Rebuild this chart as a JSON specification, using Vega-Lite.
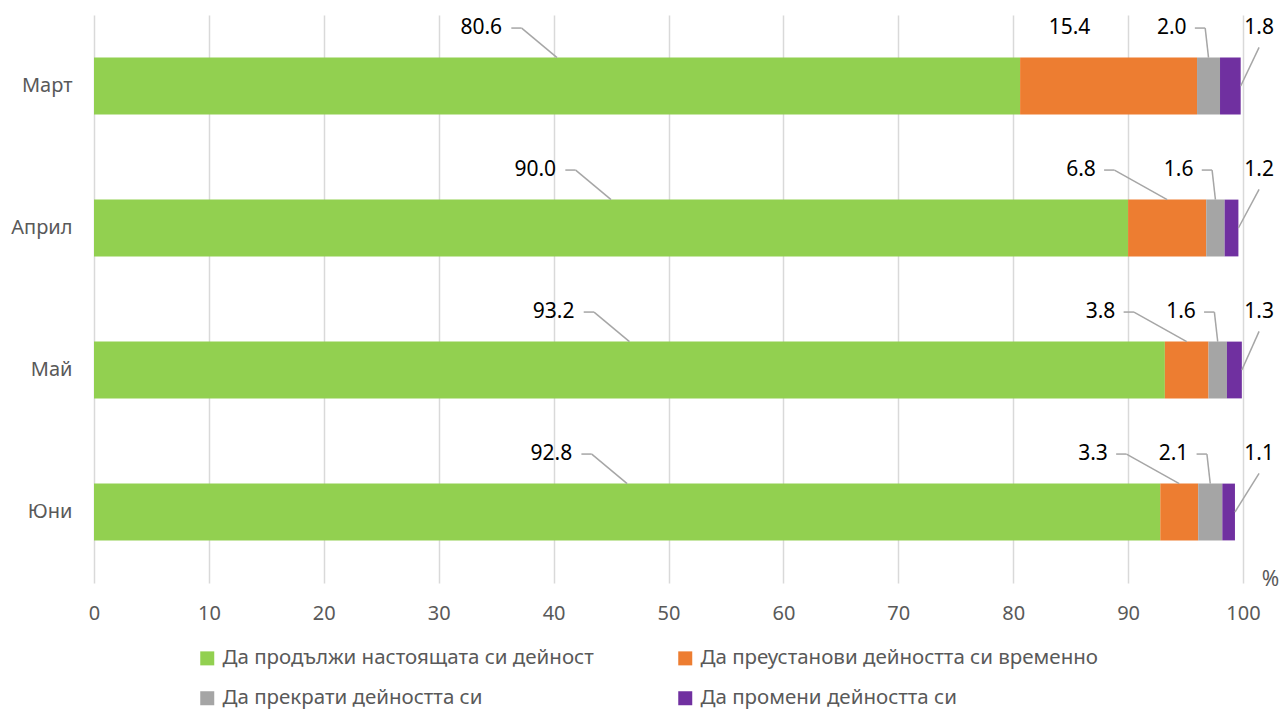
{
  "$schema": "https://vega.github.io/schema/vega-lite/v6.json",
  "width": 1149,
  "height": 568,
  "autosize": {"type": "none"},
  "padding": {"left": 94, "top": 15, "right": 39, "bottom": 128},
  "background": "white",
  "config": {"view": {"stroke": null}, "font": "Noto Sans"},
  "data": {
    "values": [
      {"month": "Март", "series": "Да продължи настоящата си дейност", "value": 80.6},
      {"month": "Март", "series": "Да преустанови дейността си временно", "value": 15.4},
      {"month": "Март", "series": "Да прекрати дейността си", "value": 2.0},
      {"month": "Март", "series": "Да промени дейността си", "value": 1.8},
      {"month": "Април", "series": "Да продължи настоящата си дейност", "value": 90.0},
      {"month": "Април", "series": "Да преустанови дейността си временно", "value": 6.8},
      {"month": "Април", "series": "Да прекрати дейността си", "value": 1.6},
      {"month": "Април", "series": "Да промени дейността си", "value": 1.2},
      {"month": "Май", "series": "Да продължи настоящата си дейност", "value": 93.2},
      {"month": "Май", "series": "Да преустанови дейността си временно", "value": 3.8},
      {"month": "Май", "series": "Да прекрати дейността си", "value": 1.6},
      {"month": "Май", "series": "Да промени дейността си", "value": 1.3},
      {"month": "Юни", "series": "Да продължи настоящата си дейност", "value": 92.8},
      {"month": "Юни", "series": "Да преустанови дейността си временно", "value": 3.3},
      {"month": "Юни", "series": "Да прекрати дейността си", "value": 2.1},
      {"month": "Юни", "series": "Да промени дейността си", "value": 1.1}
    ]
  },
  "transform": [
    {"calculate": "indexof(['Да продължи настоящата си дейност','Да преустанови дейността си временно','Да прекрати дейността си','Да промени дейността си'], datum.series)", "as": "ord"},
    {"stack": "value", "groupby": ["month"], "sort": [{"field": "ord", "order": "ascending"}], "as": ["x0", "x1"]},
    {"calculate": "(datum.x0 + datum.x1) / 2", "as": "mid"},
    {"calculate": "datum.ord == 0 ? datum.mid - 6.6 : datum.ord == 1 ? (datum.value > 10 ? datum.mid - 3.4 : datum.mid - 7.5) : datum.ord == 2 ? datum.mid - 3.2 : 101.4", "as": "lx"},
    {"calculate": "datum.lx + (datum.value >= 10 ? 1.87 : 1.26) + 0.75", "as": "ls"},
    {"calculate": "datum.ls + 0.9", "as": "lp"}
  ],
  "layer": [
    {
      "mark": {"type": "bar"},
      "encoding": {
        "y": {
          "field": "month", "type": "nominal",
          "scale": {"domain": ["Март", "Април", "Май", "Юни"], "paddingInner": 0.6, "paddingOuter": 0.3},
          "axis": {"title": null, "domain": false, "ticks": false, "grid": false, "labelPadding": 22, "labelFontSize": 20, "labelColor": "#595959", "labelFont": "Noto Sans"}
        },
        "x": {
          "field": "x0", "type": "quantitative",
          "scale": {"domain": [0, 100], "nice": false},
          "axis": {"title": "%", "values": [0, 10, 20, 30, 40, 50, 60, 70, 80, 90, 100], "grid": true, "gridColor": "#d9d9d9", "gridWidth": 1.5, "domain": false, "ticks": false, "labelFlush": false, "labelPadding": 20, "labelFontSize": 20, "labelColor": "#595959", "labelFont": "Noto Sans", "titleFontSize": 21, "titleColor": "#595959", "titleFontWeight": "normal", "titleFont": "Noto Sans", "titleX": 1176, "titleY": -4, "titleBaseline": "middle", "titleAlign": "center", "titleAngle": 0}
        },
        "x2": {"field": "x1"},
        "color": {
          "field": "series", "type": "nominal",
          "scale": {"domain": ["Да продължи настоящата си дейност", "Да преустанови дейността си временно", "Да прекрати дейността си", "Да промени дейността си"], "range": ["#92d050", "#ed7d31", "#a5a5a5", "#7030a0"]},
          "legend": {"title": null, "orient": "none", "direction": "horizontal", "legendX": 103, "legendY": 633, "columns": 2, "symbolType": "square", "symbolSize": 196, "symbolStrokeWidth": 0, "labelFontSize": 20.5, "labelColor": "#595959", "labelFont": "Noto Sans", "labelLimit": 600, "labelOffset": 5, "columnPadding": 81, "rowPadding": 19, "padding": 0}
        }
      }
    },
    {
      "transform": [{"filter": "datum.ord < 3 && !(datum.ord == 1 && datum.value > 10)"}],
      "mark": {"type": "rule", "color": "#a6a6a6", "strokeWidth": 1.5},
      "encoding": {
        "x": {"field": "ls", "type": "quantitative"},
        "x2": {"field": "lp"},
        "y": {"field": "month", "type": "nominal", "bandPosition": -0.52}
      }
    },
    {
      "transform": [{"filter": "datum.ord < 3 && !(datum.ord == 1 && datum.value > 10)"}],
      "mark": {"type": "rule", "color": "#a6a6a6", "strokeWidth": 1.5},
      "encoding": {
        "x": {"field": "lp", "type": "quantitative"},
        "x2": {"field": "mid"},
        "y": {"field": "month", "type": "nominal", "bandPosition": -0.52},
        "y2": {"field": "month", "bandPosition": 0}
      }
    },
    {
      "transform": [{"filter": "datum.ord == 3"}],
      "mark": {"type": "rule", "color": "#a6a6a6", "strokeWidth": 1.5},
      "encoding": {
        "x": {"field": "lx", "type": "quantitative"},
        "x2": {"field": "x1"},
        "y": {"field": "month", "type": "nominal", "bandPosition": -0.18},
        "y2": {"field": "month", "bandPosition": 0.5}
      }
    },
    {
      "mark": {"type": "text", "fontSize": 21, "font": "Noto Sans", "color": "#000000", "baseline": "middle", "align": "center"},
      "encoding": {
        "x": {"field": "lx", "type": "quantitative"},
        "y": {"field": "month", "type": "nominal", "bandPosition": -0.52},
        "text": {"field": "value", "type": "quantitative", "format": ".1f"}
      }
    }
  ]
}
